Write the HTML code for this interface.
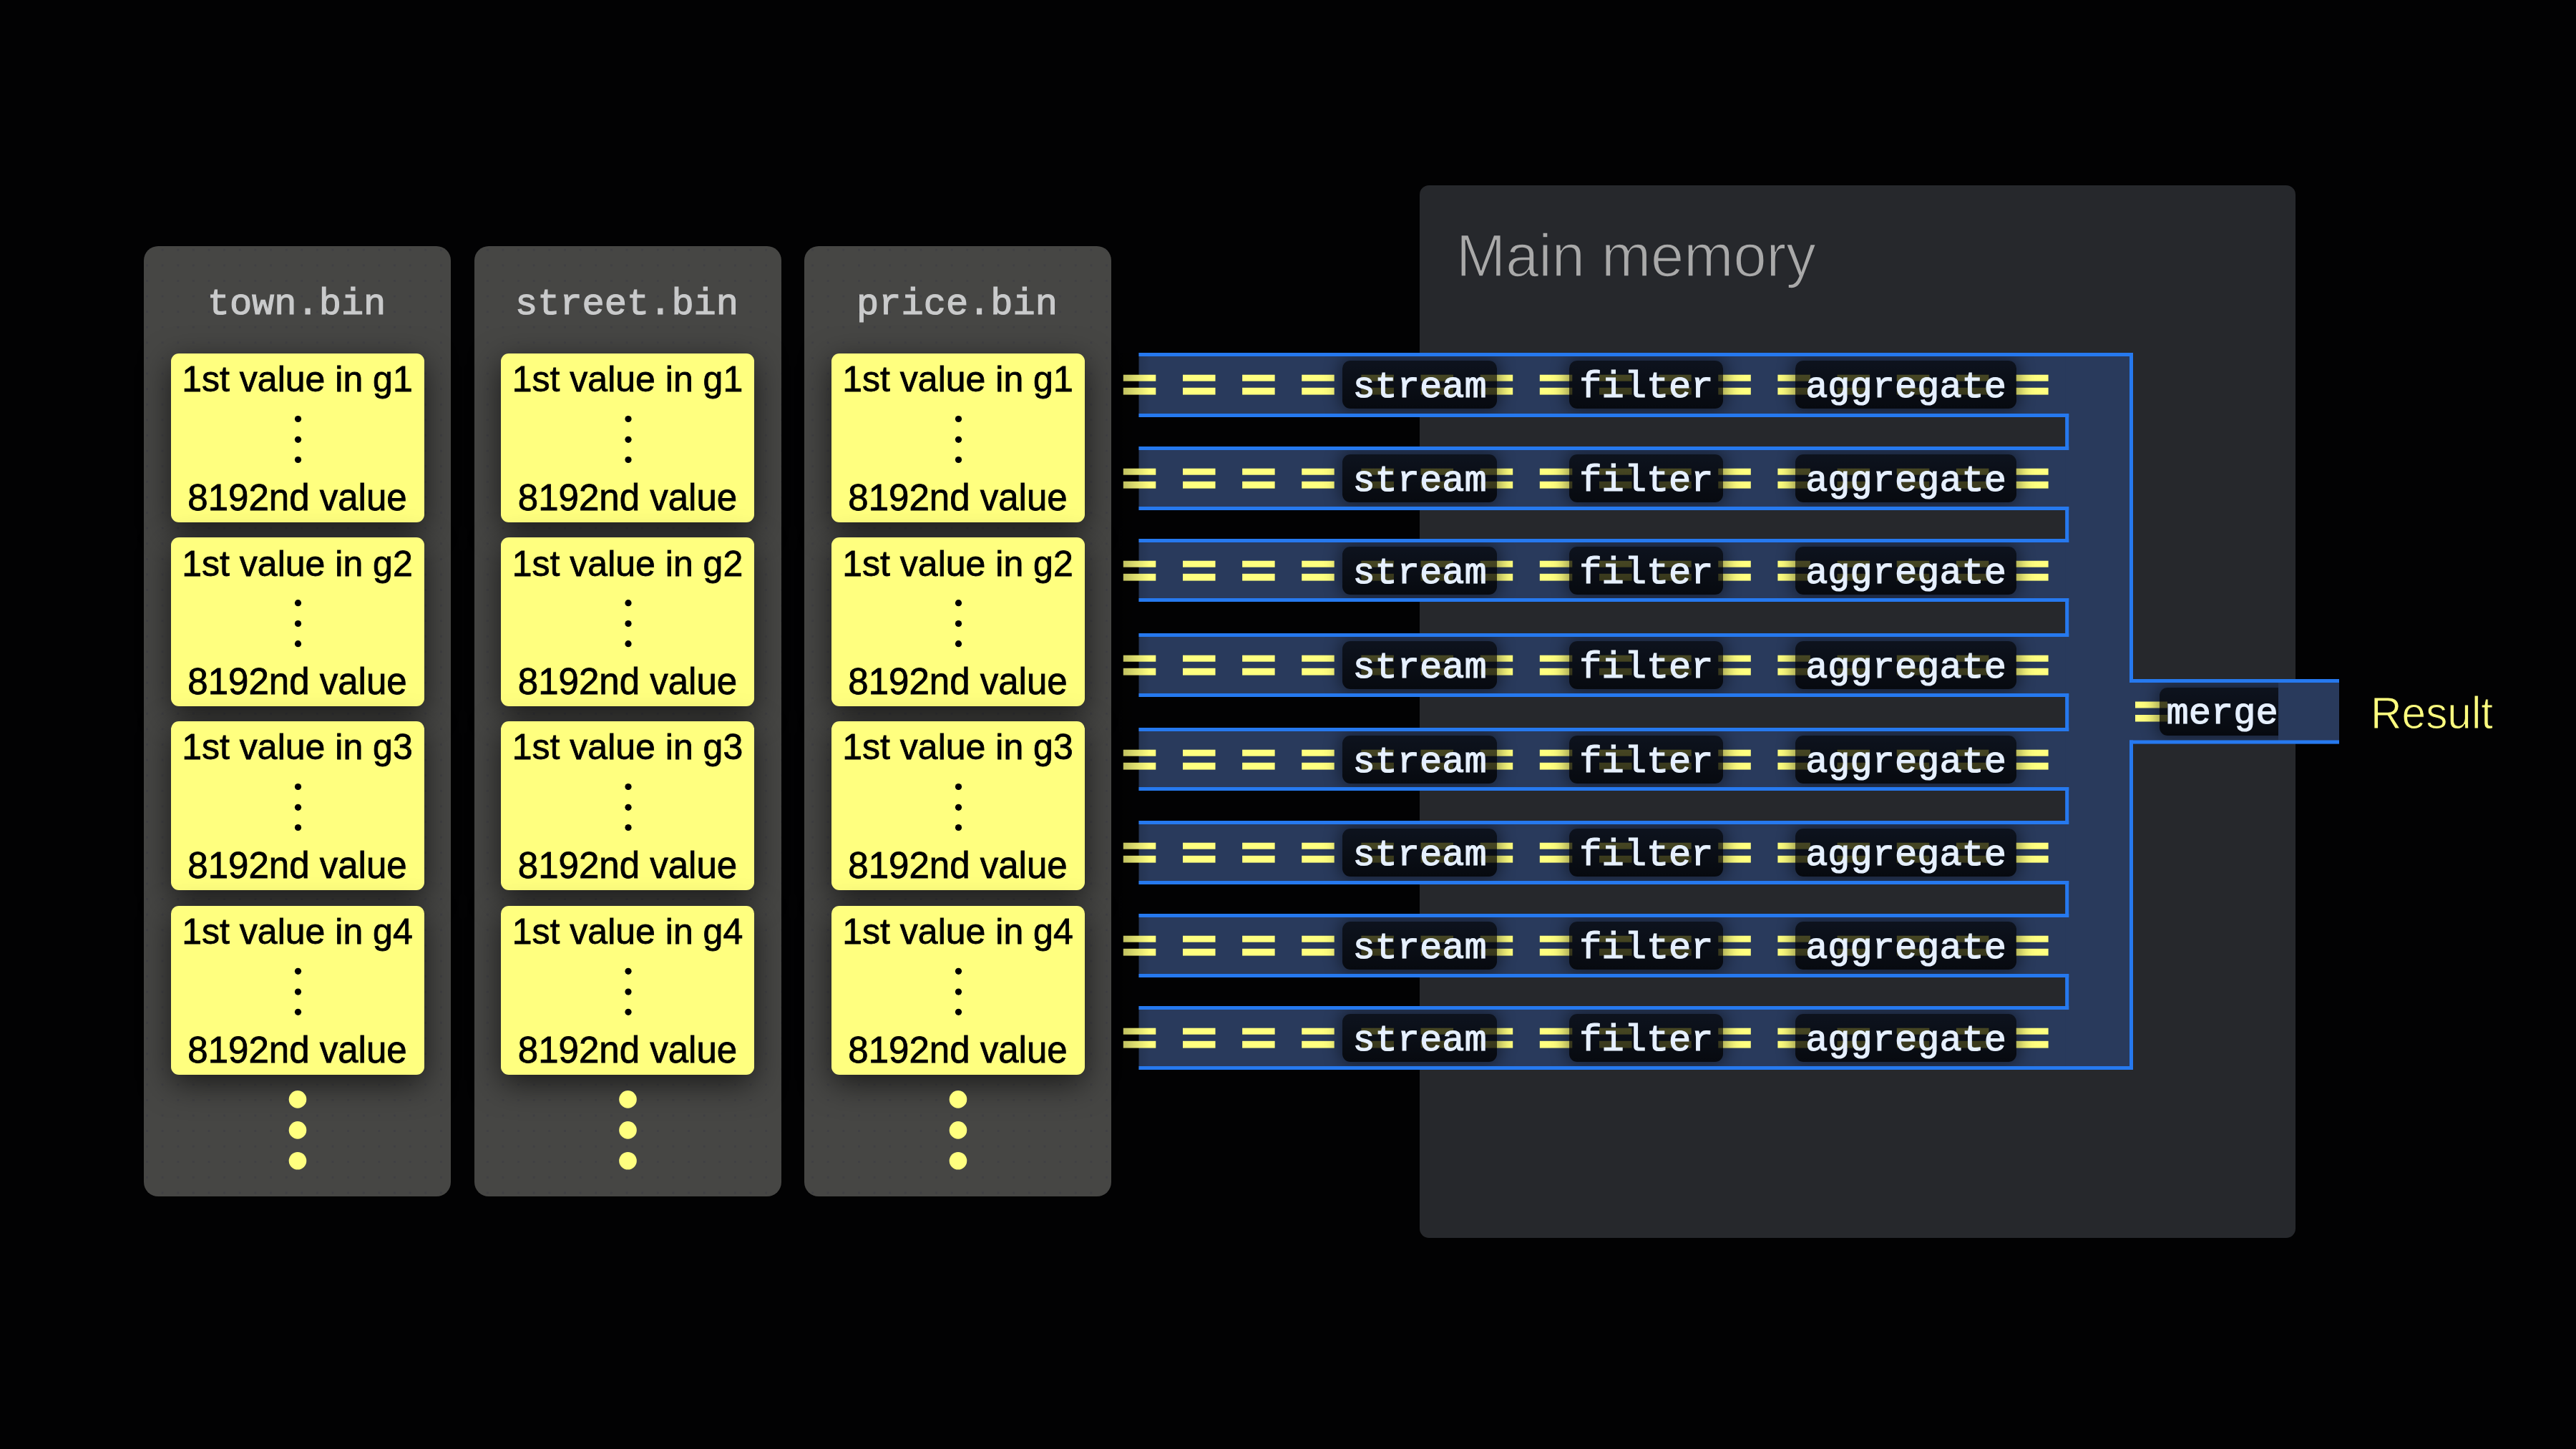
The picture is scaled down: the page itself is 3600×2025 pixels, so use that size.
<!DOCTYPE html><html><head><meta charset="utf-8"><style>
html,body{margin:0;padding:0;width:3600px;height:2025px;overflow:hidden;background:#020203}
.r{position:absolute;box-sizing:border-box}
svg{position:absolute;left:0;top:0;overflow:visible}
</style></head><body>
<div class="r" style="left:201.0px;top:344px;width:429px;height:1328px;background:#464644;border-radius:20px"></div>
<div class="r" style="left:662.5px;top:344px;width:429px;height:1328px;background:#464644;border-radius:20px"></div>
<div class="r" style="left:1124.0px;top:344px;width:429px;height:1328px;background:#464644;border-radius:20px"></div>
<svg width="3600" height="2025"><defs><pattern id="dg" patternUnits="userSpaceOnUse" x="204.00" y="347.80" width="21.63" height="21.602"><rect x="0" y="0" width="3" height="3" fill="#404043"/></pattern></defs>
<rect x="201.0" y="344" width="429" height="1328" rx="20" fill="url(#dg)"/>
<rect x="662.5" y="344" width="429" height="1328" rx="20" fill="url(#dg)"/>
<rect x="1124.0" y="344" width="429" height="1328" rx="20" fill="url(#dg)"/>
</svg>
<div class="r" style="left:238.5px;top:494.0px;width:354px;height:236px;background:#FFFF7F;border-radius:11px;box-shadow:0 12px 44px rgba(0,0,0,0.62)"></div>
<div class="r" style="left:238.5px;top:751.2px;width:354px;height:236px;background:#FFFF7F;border-radius:11px;box-shadow:0 12px 44px rgba(0,0,0,0.62)"></div>
<div class="r" style="left:238.5px;top:1008.0px;width:354px;height:236px;background:#FFFF7F;border-radius:11px;box-shadow:0 12px 44px rgba(0,0,0,0.62)"></div>
<div class="r" style="left:238.5px;top:1265.8px;width:354px;height:236px;background:#FFFF7F;border-radius:11px;box-shadow:0 12px 44px rgba(0,0,0,0.62)"></div>
<div class="r" style="left:700.0px;top:494.0px;width:354px;height:236px;background:#FFFF7F;border-radius:11px;box-shadow:0 12px 44px rgba(0,0,0,0.62)"></div>
<div class="r" style="left:700.0px;top:751.2px;width:354px;height:236px;background:#FFFF7F;border-radius:11px;box-shadow:0 12px 44px rgba(0,0,0,0.62)"></div>
<div class="r" style="left:700.0px;top:1008.0px;width:354px;height:236px;background:#FFFF7F;border-radius:11px;box-shadow:0 12px 44px rgba(0,0,0,0.62)"></div>
<div class="r" style="left:700.0px;top:1265.8px;width:354px;height:236px;background:#FFFF7F;border-radius:11px;box-shadow:0 12px 44px rgba(0,0,0,0.62)"></div>
<div class="r" style="left:1161.5px;top:494.0px;width:354px;height:236px;background:#FFFF7F;border-radius:11px;box-shadow:0 12px 44px rgba(0,0,0,0.62)"></div>
<div class="r" style="left:1161.5px;top:751.2px;width:354px;height:236px;background:#FFFF7F;border-radius:11px;box-shadow:0 12px 44px rgba(0,0,0,0.62)"></div>
<div class="r" style="left:1161.5px;top:1008.0px;width:354px;height:236px;background:#FFFF7F;border-radius:11px;box-shadow:0 12px 44px rgba(0,0,0,0.62)"></div>
<div class="r" style="left:1161.5px;top:1265.8px;width:354px;height:236px;background:#FFFF7F;border-radius:11px;box-shadow:0 12px 44px rgba(0,0,0,0.62)"></div>
<svg width="3600" height="2025">
<text x="414.5" y="438.6" font-family='"Liberation Mono", monospace' font-size="52" fill="#C9CACB" stroke="#C9CACB" stroke-width="1.2" text-anchor="middle">town.bin</text>
<text x="415.5" y="547.3" font-family='"Liberation Sans", sans-serif' font-size="50" fill="#000" stroke="#000" stroke-width="0.8" text-anchor="middle">1st value in g1</text>
<circle cx="416.5" cy="585.5" r="4.6" fill="#000"/>
<circle cx="416.5" cy="614.3" r="4.6" fill="#000"/>
<circle cx="416.5" cy="642.5" r="4.6" fill="#000"/>
<text x="415.5" y="712.9" font-family='"Liberation Sans", sans-serif' font-size="51" fill="#000" stroke="#000" stroke-width="0.8" text-anchor="middle">8192nd value</text>
<text x="415.5" y="804.5" font-family='"Liberation Sans", sans-serif' font-size="50" fill="#000" stroke="#000" stroke-width="0.8" text-anchor="middle">1st value in g2</text>
<circle cx="416.5" cy="842.7" r="4.6" fill="#000"/>
<circle cx="416.5" cy="871.5" r="4.6" fill="#000"/>
<circle cx="416.5" cy="899.7" r="4.6" fill="#000"/>
<text x="415.5" y="970.1" font-family='"Liberation Sans", sans-serif' font-size="51" fill="#000" stroke="#000" stroke-width="0.8" text-anchor="middle">8192nd value</text>
<text x="415.5" y="1061.3" font-family='"Liberation Sans", sans-serif' font-size="50" fill="#000" stroke="#000" stroke-width="0.8" text-anchor="middle">1st value in g3</text>
<circle cx="416.5" cy="1099.5" r="4.6" fill="#000"/>
<circle cx="416.5" cy="1128.3" r="4.6" fill="#000"/>
<circle cx="416.5" cy="1156.5" r="4.6" fill="#000"/>
<text x="415.5" y="1226.9" font-family='"Liberation Sans", sans-serif' font-size="51" fill="#000" stroke="#000" stroke-width="0.8" text-anchor="middle">8192nd value</text>
<text x="415.5" y="1319.1" font-family='"Liberation Sans", sans-serif' font-size="50" fill="#000" stroke="#000" stroke-width="0.8" text-anchor="middle">1st value in g4</text>
<circle cx="416.5" cy="1357.3" r="4.6" fill="#000"/>
<circle cx="416.5" cy="1386.1" r="4.6" fill="#000"/>
<circle cx="416.5" cy="1414.3" r="4.6" fill="#000"/>
<text x="415.5" y="1484.7" font-family='"Liberation Sans", sans-serif' font-size="51" fill="#000" stroke="#000" stroke-width="0.8" text-anchor="middle">8192nd value</text>
<circle cx="416.0" cy="1536.4" r="12.3" fill="#FFFF7F"/>
<circle cx="416.0" cy="1579.4" r="12.3" fill="#FFFF7F"/>
<circle cx="416.0" cy="1622.3" r="12.3" fill="#FFFF7F"/>
<text x="876.0" y="438.6" font-family='"Liberation Mono", monospace' font-size="52" fill="#C9CACB" stroke="#C9CACB" stroke-width="1.2" text-anchor="middle">street.bin</text>
<text x="877.0" y="547.3" font-family='"Liberation Sans", sans-serif' font-size="50" fill="#000" stroke="#000" stroke-width="0.8" text-anchor="middle">1st value in g1</text>
<circle cx="878.0" cy="585.5" r="4.6" fill="#000"/>
<circle cx="878.0" cy="614.3" r="4.6" fill="#000"/>
<circle cx="878.0" cy="642.5" r="4.6" fill="#000"/>
<text x="877.0" y="712.9" font-family='"Liberation Sans", sans-serif' font-size="51" fill="#000" stroke="#000" stroke-width="0.8" text-anchor="middle">8192nd value</text>
<text x="877.0" y="804.5" font-family='"Liberation Sans", sans-serif' font-size="50" fill="#000" stroke="#000" stroke-width="0.8" text-anchor="middle">1st value in g2</text>
<circle cx="878.0" cy="842.7" r="4.6" fill="#000"/>
<circle cx="878.0" cy="871.5" r="4.6" fill="#000"/>
<circle cx="878.0" cy="899.7" r="4.6" fill="#000"/>
<text x="877.0" y="970.1" font-family='"Liberation Sans", sans-serif' font-size="51" fill="#000" stroke="#000" stroke-width="0.8" text-anchor="middle">8192nd value</text>
<text x="877.0" y="1061.3" font-family='"Liberation Sans", sans-serif' font-size="50" fill="#000" stroke="#000" stroke-width="0.8" text-anchor="middle">1st value in g3</text>
<circle cx="878.0" cy="1099.5" r="4.6" fill="#000"/>
<circle cx="878.0" cy="1128.3" r="4.6" fill="#000"/>
<circle cx="878.0" cy="1156.5" r="4.6" fill="#000"/>
<text x="877.0" y="1226.9" font-family='"Liberation Sans", sans-serif' font-size="51" fill="#000" stroke="#000" stroke-width="0.8" text-anchor="middle">8192nd value</text>
<text x="877.0" y="1319.1" font-family='"Liberation Sans", sans-serif' font-size="50" fill="#000" stroke="#000" stroke-width="0.8" text-anchor="middle">1st value in g4</text>
<circle cx="878.0" cy="1357.3" r="4.6" fill="#000"/>
<circle cx="878.0" cy="1386.1" r="4.6" fill="#000"/>
<circle cx="878.0" cy="1414.3" r="4.6" fill="#000"/>
<text x="877.0" y="1484.7" font-family='"Liberation Sans", sans-serif' font-size="51" fill="#000" stroke="#000" stroke-width="0.8" text-anchor="middle">8192nd value</text>
<circle cx="877.5" cy="1536.4" r="12.3" fill="#FFFF7F"/>
<circle cx="877.5" cy="1579.4" r="12.3" fill="#FFFF7F"/>
<circle cx="877.5" cy="1622.3" r="12.3" fill="#FFFF7F"/>
<text x="1337.5" y="438.6" font-family='"Liberation Mono", monospace' font-size="52" fill="#C9CACB" stroke="#C9CACB" stroke-width="1.2" text-anchor="middle">price.bin</text>
<text x="1338.5" y="547.3" font-family='"Liberation Sans", sans-serif' font-size="50" fill="#000" stroke="#000" stroke-width="0.8" text-anchor="middle">1st value in g1</text>
<circle cx="1339.5" cy="585.5" r="4.6" fill="#000"/>
<circle cx="1339.5" cy="614.3" r="4.6" fill="#000"/>
<circle cx="1339.5" cy="642.5" r="4.6" fill="#000"/>
<text x="1338.5" y="712.9" font-family='"Liberation Sans", sans-serif' font-size="51" fill="#000" stroke="#000" stroke-width="0.8" text-anchor="middle">8192nd value</text>
<text x="1338.5" y="804.5" font-family='"Liberation Sans", sans-serif' font-size="50" fill="#000" stroke="#000" stroke-width="0.8" text-anchor="middle">1st value in g2</text>
<circle cx="1339.5" cy="842.7" r="4.6" fill="#000"/>
<circle cx="1339.5" cy="871.5" r="4.6" fill="#000"/>
<circle cx="1339.5" cy="899.7" r="4.6" fill="#000"/>
<text x="1338.5" y="970.1" font-family='"Liberation Sans", sans-serif' font-size="51" fill="#000" stroke="#000" stroke-width="0.8" text-anchor="middle">8192nd value</text>
<text x="1338.5" y="1061.3" font-family='"Liberation Sans", sans-serif' font-size="50" fill="#000" stroke="#000" stroke-width="0.8" text-anchor="middle">1st value in g3</text>
<circle cx="1339.5" cy="1099.5" r="4.6" fill="#000"/>
<circle cx="1339.5" cy="1128.3" r="4.6" fill="#000"/>
<circle cx="1339.5" cy="1156.5" r="4.6" fill="#000"/>
<text x="1338.5" y="1226.9" font-family='"Liberation Sans", sans-serif' font-size="51" fill="#000" stroke="#000" stroke-width="0.8" text-anchor="middle">8192nd value</text>
<text x="1338.5" y="1319.1" font-family='"Liberation Sans", sans-serif' font-size="50" fill="#000" stroke="#000" stroke-width="0.8" text-anchor="middle">1st value in g4</text>
<circle cx="1339.5" cy="1357.3" r="4.6" fill="#000"/>
<circle cx="1339.5" cy="1386.1" r="4.6" fill="#000"/>
<circle cx="1339.5" cy="1414.3" r="4.6" fill="#000"/>
<text x="1338.5" y="1484.7" font-family='"Liberation Sans", sans-serif' font-size="51" fill="#000" stroke="#000" stroke-width="0.8" text-anchor="middle">8192nd value</text>
<circle cx="1339.0" cy="1536.4" r="12.3" fill="#FFFF7F"/>
<circle cx="1339.0" cy="1579.4" r="12.3" fill="#FFFF7F"/>
<circle cx="1339.0" cy="1622.3" r="12.3" fill="#FFFF7F"/>
</svg>
<div class="r" style="left:1984px;top:259px;width:1224px;height:1471px;background:#26282C;border-radius:13px"></div>
<svg width="3600" height="2025"><text x="2035" y="386.3" font-family='"Liberation Sans", sans-serif' font-size="83" fill="#A9A9A9" stroke="#26282C" stroke-width="1.6">Main memory</text></svg>
<svg width="3600" height="2025"><rect x="1591.5" y="493" width="1295.7" height="90" fill="#293A5C"/><rect x="1591.5" y="624" width="1295.7" height="89" fill="#293A5C"/><rect x="1591.5" y="753" width="1295.7" height="88" fill="#293A5C"/><rect x="1591.5" y="885" width="1295.7" height="89" fill="#293A5C"/><rect x="1591.5" y="1017" width="1295.7" height="88" fill="#293A5C"/><rect x="1591.5" y="1147" width="1295.7" height="89" fill="#293A5C"/><rect x="1591.5" y="1277" width="1295.7" height="89" fill="#293A5C"/><rect x="1591.5" y="1406" width="1295.7" height="89" fill="#293A5C"/><rect x="2886.2" y="493" width="94.8" height="1002" fill="#293A5C"/><rect x="2976" y="949" width="293" height="90.5" fill="#293A5C"/></svg>
<svg width="3600" height="2025"><rect x="1569.8" y="523.7" width="45.5" height="9" fill="#FFFF7F"/><rect x="1569.8" y="541.8" width="45.5" height="9.8" fill="#FFFF7F"/><rect x="1653.0" y="523.7" width="45.5" height="9" fill="#FFFF7F"/><rect x="1653.0" y="541.8" width="45.5" height="9.8" fill="#FFFF7F"/><rect x="1736.1" y="523.7" width="45.5" height="9" fill="#FFFF7F"/><rect x="1736.1" y="541.8" width="45.5" height="9.8" fill="#FFFF7F"/><rect x="1819.2" y="523.7" width="45.5" height="9" fill="#FFFF7F"/><rect x="1819.2" y="541.8" width="45.5" height="9.8" fill="#FFFF7F"/><rect x="1902.4" y="523.7" width="45.5" height="9" fill="#FFFF7F"/><rect x="1902.4" y="541.8" width="45.5" height="9.8" fill="#FFFF7F"/><rect x="1985.5" y="523.7" width="45.5" height="9" fill="#FFFF7F"/><rect x="1985.5" y="541.8" width="45.5" height="9.8" fill="#FFFF7F"/><rect x="2068.7" y="523.7" width="45.5" height="9" fill="#FFFF7F"/><rect x="2068.7" y="541.8" width="45.5" height="9.8" fill="#FFFF7F"/><rect x="2151.8" y="523.7" width="45.5" height="9" fill="#FFFF7F"/><rect x="2151.8" y="541.8" width="45.5" height="9.8" fill="#FFFF7F"/><rect x="2235.0" y="523.7" width="45.5" height="9" fill="#FFFF7F"/><rect x="2235.0" y="541.8" width="45.5" height="9.8" fill="#FFFF7F"/><rect x="2318.2" y="523.7" width="45.5" height="9" fill="#FFFF7F"/><rect x="2318.2" y="541.8" width="45.5" height="9.8" fill="#FFFF7F"/><rect x="2401.3" y="523.7" width="45.5" height="9" fill="#FFFF7F"/><rect x="2401.3" y="541.8" width="45.5" height="9.8" fill="#FFFF7F"/><rect x="2484.4" y="523.7" width="45.5" height="9" fill="#FFFF7F"/><rect x="2484.4" y="541.8" width="45.5" height="9.8" fill="#FFFF7F"/><rect x="2567.6" y="523.7" width="45.5" height="9" fill="#FFFF7F"/><rect x="2567.6" y="541.8" width="45.5" height="9.8" fill="#FFFF7F"/><rect x="2650.8" y="523.7" width="45.5" height="9" fill="#FFFF7F"/><rect x="2650.8" y="541.8" width="45.5" height="9.8" fill="#FFFF7F"/><rect x="2733.9" y="523.7" width="45.5" height="9" fill="#FFFF7F"/><rect x="2733.9" y="541.8" width="45.5" height="9.8" fill="#FFFF7F"/><rect x="2817.1" y="523.7" width="45.5" height="9" fill="#FFFF7F"/><rect x="2817.1" y="541.8" width="45.5" height="9.8" fill="#FFFF7F"/><rect x="1569.8" y="654.7" width="45.5" height="9" fill="#FFFF7F"/><rect x="1569.8" y="672.8" width="45.5" height="9.8" fill="#FFFF7F"/><rect x="1653.0" y="654.7" width="45.5" height="9" fill="#FFFF7F"/><rect x="1653.0" y="672.8" width="45.5" height="9.8" fill="#FFFF7F"/><rect x="1736.1" y="654.7" width="45.5" height="9" fill="#FFFF7F"/><rect x="1736.1" y="672.8" width="45.5" height="9.8" fill="#FFFF7F"/><rect x="1819.2" y="654.7" width="45.5" height="9" fill="#FFFF7F"/><rect x="1819.2" y="672.8" width="45.5" height="9.8" fill="#FFFF7F"/><rect x="1902.4" y="654.7" width="45.5" height="9" fill="#FFFF7F"/><rect x="1902.4" y="672.8" width="45.5" height="9.8" fill="#FFFF7F"/><rect x="1985.5" y="654.7" width="45.5" height="9" fill="#FFFF7F"/><rect x="1985.5" y="672.8" width="45.5" height="9.8" fill="#FFFF7F"/><rect x="2068.7" y="654.7" width="45.5" height="9" fill="#FFFF7F"/><rect x="2068.7" y="672.8" width="45.5" height="9.8" fill="#FFFF7F"/><rect x="2151.8" y="654.7" width="45.5" height="9" fill="#FFFF7F"/><rect x="2151.8" y="672.8" width="45.5" height="9.8" fill="#FFFF7F"/><rect x="2235.0" y="654.7" width="45.5" height="9" fill="#FFFF7F"/><rect x="2235.0" y="672.8" width="45.5" height="9.8" fill="#FFFF7F"/><rect x="2318.2" y="654.7" width="45.5" height="9" fill="#FFFF7F"/><rect x="2318.2" y="672.8" width="45.5" height="9.8" fill="#FFFF7F"/><rect x="2401.3" y="654.7" width="45.5" height="9" fill="#FFFF7F"/><rect x="2401.3" y="672.8" width="45.5" height="9.8" fill="#FFFF7F"/><rect x="2484.4" y="654.7" width="45.5" height="9" fill="#FFFF7F"/><rect x="2484.4" y="672.8" width="45.5" height="9.8" fill="#FFFF7F"/><rect x="2567.6" y="654.7" width="45.5" height="9" fill="#FFFF7F"/><rect x="2567.6" y="672.8" width="45.5" height="9.8" fill="#FFFF7F"/><rect x="2650.8" y="654.7" width="45.5" height="9" fill="#FFFF7F"/><rect x="2650.8" y="672.8" width="45.5" height="9.8" fill="#FFFF7F"/><rect x="2733.9" y="654.7" width="45.5" height="9" fill="#FFFF7F"/><rect x="2733.9" y="672.8" width="45.5" height="9.8" fill="#FFFF7F"/><rect x="2817.1" y="654.7" width="45.5" height="9" fill="#FFFF7F"/><rect x="2817.1" y="672.8" width="45.5" height="9.8" fill="#FFFF7F"/><rect x="1569.8" y="783.7" width="45.5" height="9" fill="#FFFF7F"/><rect x="1569.8" y="801.8" width="45.5" height="9.8" fill="#FFFF7F"/><rect x="1653.0" y="783.7" width="45.5" height="9" fill="#FFFF7F"/><rect x="1653.0" y="801.8" width="45.5" height="9.8" fill="#FFFF7F"/><rect x="1736.1" y="783.7" width="45.5" height="9" fill="#FFFF7F"/><rect x="1736.1" y="801.8" width="45.5" height="9.8" fill="#FFFF7F"/><rect x="1819.2" y="783.7" width="45.5" height="9" fill="#FFFF7F"/><rect x="1819.2" y="801.8" width="45.5" height="9.8" fill="#FFFF7F"/><rect x="1902.4" y="783.7" width="45.5" height="9" fill="#FFFF7F"/><rect x="1902.4" y="801.8" width="45.5" height="9.8" fill="#FFFF7F"/><rect x="1985.5" y="783.7" width="45.5" height="9" fill="#FFFF7F"/><rect x="1985.5" y="801.8" width="45.5" height="9.8" fill="#FFFF7F"/><rect x="2068.7" y="783.7" width="45.5" height="9" fill="#FFFF7F"/><rect x="2068.7" y="801.8" width="45.5" height="9.8" fill="#FFFF7F"/><rect x="2151.8" y="783.7" width="45.5" height="9" fill="#FFFF7F"/><rect x="2151.8" y="801.8" width="45.5" height="9.8" fill="#FFFF7F"/><rect x="2235.0" y="783.7" width="45.5" height="9" fill="#FFFF7F"/><rect x="2235.0" y="801.8" width="45.5" height="9.8" fill="#FFFF7F"/><rect x="2318.2" y="783.7" width="45.5" height="9" fill="#FFFF7F"/><rect x="2318.2" y="801.8" width="45.5" height="9.8" fill="#FFFF7F"/><rect x="2401.3" y="783.7" width="45.5" height="9" fill="#FFFF7F"/><rect x="2401.3" y="801.8" width="45.5" height="9.8" fill="#FFFF7F"/><rect x="2484.4" y="783.7" width="45.5" height="9" fill="#FFFF7F"/><rect x="2484.4" y="801.8" width="45.5" height="9.8" fill="#FFFF7F"/><rect x="2567.6" y="783.7" width="45.5" height="9" fill="#FFFF7F"/><rect x="2567.6" y="801.8" width="45.5" height="9.8" fill="#FFFF7F"/><rect x="2650.8" y="783.7" width="45.5" height="9" fill="#FFFF7F"/><rect x="2650.8" y="801.8" width="45.5" height="9.8" fill="#FFFF7F"/><rect x="2733.9" y="783.7" width="45.5" height="9" fill="#FFFF7F"/><rect x="2733.9" y="801.8" width="45.5" height="9.8" fill="#FFFF7F"/><rect x="2817.1" y="783.7" width="45.5" height="9" fill="#FFFF7F"/><rect x="2817.1" y="801.8" width="45.5" height="9.8" fill="#FFFF7F"/><rect x="1569.8" y="915.7" width="45.5" height="9" fill="#FFFF7F"/><rect x="1569.8" y="933.8" width="45.5" height="9.8" fill="#FFFF7F"/><rect x="1653.0" y="915.7" width="45.5" height="9" fill="#FFFF7F"/><rect x="1653.0" y="933.8" width="45.5" height="9.8" fill="#FFFF7F"/><rect x="1736.1" y="915.7" width="45.5" height="9" fill="#FFFF7F"/><rect x="1736.1" y="933.8" width="45.5" height="9.8" fill="#FFFF7F"/><rect x="1819.2" y="915.7" width="45.5" height="9" fill="#FFFF7F"/><rect x="1819.2" y="933.8" width="45.5" height="9.8" fill="#FFFF7F"/><rect x="1902.4" y="915.7" width="45.5" height="9" fill="#FFFF7F"/><rect x="1902.4" y="933.8" width="45.5" height="9.8" fill="#FFFF7F"/><rect x="1985.5" y="915.7" width="45.5" height="9" fill="#FFFF7F"/><rect x="1985.5" y="933.8" width="45.5" height="9.8" fill="#FFFF7F"/><rect x="2068.7" y="915.7" width="45.5" height="9" fill="#FFFF7F"/><rect x="2068.7" y="933.8" width="45.5" height="9.8" fill="#FFFF7F"/><rect x="2151.8" y="915.7" width="45.5" height="9" fill="#FFFF7F"/><rect x="2151.8" y="933.8" width="45.5" height="9.8" fill="#FFFF7F"/><rect x="2235.0" y="915.7" width="45.5" height="9" fill="#FFFF7F"/><rect x="2235.0" y="933.8" width="45.5" height="9.8" fill="#FFFF7F"/><rect x="2318.2" y="915.7" width="45.5" height="9" fill="#FFFF7F"/><rect x="2318.2" y="933.8" width="45.5" height="9.8" fill="#FFFF7F"/><rect x="2401.3" y="915.7" width="45.5" height="9" fill="#FFFF7F"/><rect x="2401.3" y="933.8" width="45.5" height="9.8" fill="#FFFF7F"/><rect x="2484.4" y="915.7" width="45.5" height="9" fill="#FFFF7F"/><rect x="2484.4" y="933.8" width="45.5" height="9.8" fill="#FFFF7F"/><rect x="2567.6" y="915.7" width="45.5" height="9" fill="#FFFF7F"/><rect x="2567.6" y="933.8" width="45.5" height="9.8" fill="#FFFF7F"/><rect x="2650.8" y="915.7" width="45.5" height="9" fill="#FFFF7F"/><rect x="2650.8" y="933.8" width="45.5" height="9.8" fill="#FFFF7F"/><rect x="2733.9" y="915.7" width="45.5" height="9" fill="#FFFF7F"/><rect x="2733.9" y="933.8" width="45.5" height="9.8" fill="#FFFF7F"/><rect x="2817.1" y="915.7" width="45.5" height="9" fill="#FFFF7F"/><rect x="2817.1" y="933.8" width="45.5" height="9.8" fill="#FFFF7F"/><rect x="1569.8" y="1047.7" width="45.5" height="9" fill="#FFFF7F"/><rect x="1569.8" y="1065.8" width="45.5" height="9.8" fill="#FFFF7F"/><rect x="1653.0" y="1047.7" width="45.5" height="9" fill="#FFFF7F"/><rect x="1653.0" y="1065.8" width="45.5" height="9.8" fill="#FFFF7F"/><rect x="1736.1" y="1047.7" width="45.5" height="9" fill="#FFFF7F"/><rect x="1736.1" y="1065.8" width="45.5" height="9.8" fill="#FFFF7F"/><rect x="1819.2" y="1047.7" width="45.5" height="9" fill="#FFFF7F"/><rect x="1819.2" y="1065.8" width="45.5" height="9.8" fill="#FFFF7F"/><rect x="1902.4" y="1047.7" width="45.5" height="9" fill="#FFFF7F"/><rect x="1902.4" y="1065.8" width="45.5" height="9.8" fill="#FFFF7F"/><rect x="1985.5" y="1047.7" width="45.5" height="9" fill="#FFFF7F"/><rect x="1985.5" y="1065.8" width="45.5" height="9.8" fill="#FFFF7F"/><rect x="2068.7" y="1047.7" width="45.5" height="9" fill="#FFFF7F"/><rect x="2068.7" y="1065.8" width="45.5" height="9.8" fill="#FFFF7F"/><rect x="2151.8" y="1047.7" width="45.5" height="9" fill="#FFFF7F"/><rect x="2151.8" y="1065.8" width="45.5" height="9.8" fill="#FFFF7F"/><rect x="2235.0" y="1047.7" width="45.5" height="9" fill="#FFFF7F"/><rect x="2235.0" y="1065.8" width="45.5" height="9.8" fill="#FFFF7F"/><rect x="2318.2" y="1047.7" width="45.5" height="9" fill="#FFFF7F"/><rect x="2318.2" y="1065.8" width="45.5" height="9.8" fill="#FFFF7F"/><rect x="2401.3" y="1047.7" width="45.5" height="9" fill="#FFFF7F"/><rect x="2401.3" y="1065.8" width="45.5" height="9.8" fill="#FFFF7F"/><rect x="2484.4" y="1047.7" width="45.5" height="9" fill="#FFFF7F"/><rect x="2484.4" y="1065.8" width="45.5" height="9.8" fill="#FFFF7F"/><rect x="2567.6" y="1047.7" width="45.5" height="9" fill="#FFFF7F"/><rect x="2567.6" y="1065.8" width="45.5" height="9.8" fill="#FFFF7F"/><rect x="2650.8" y="1047.7" width="45.5" height="9" fill="#FFFF7F"/><rect x="2650.8" y="1065.8" width="45.5" height="9.8" fill="#FFFF7F"/><rect x="2733.9" y="1047.7" width="45.5" height="9" fill="#FFFF7F"/><rect x="2733.9" y="1065.8" width="45.5" height="9.8" fill="#FFFF7F"/><rect x="2817.1" y="1047.7" width="45.5" height="9" fill="#FFFF7F"/><rect x="2817.1" y="1065.8" width="45.5" height="9.8" fill="#FFFF7F"/><rect x="1569.8" y="1177.7" width="45.5" height="9" fill="#FFFF7F"/><rect x="1569.8" y="1195.8" width="45.5" height="9.8" fill="#FFFF7F"/><rect x="1653.0" y="1177.7" width="45.5" height="9" fill="#FFFF7F"/><rect x="1653.0" y="1195.8" width="45.5" height="9.8" fill="#FFFF7F"/><rect x="1736.1" y="1177.7" width="45.5" height="9" fill="#FFFF7F"/><rect x="1736.1" y="1195.8" width="45.5" height="9.8" fill="#FFFF7F"/><rect x="1819.2" y="1177.7" width="45.5" height="9" fill="#FFFF7F"/><rect x="1819.2" y="1195.8" width="45.5" height="9.8" fill="#FFFF7F"/><rect x="1902.4" y="1177.7" width="45.5" height="9" fill="#FFFF7F"/><rect x="1902.4" y="1195.8" width="45.5" height="9.8" fill="#FFFF7F"/><rect x="1985.5" y="1177.7" width="45.5" height="9" fill="#FFFF7F"/><rect x="1985.5" y="1195.8" width="45.5" height="9.8" fill="#FFFF7F"/><rect x="2068.7" y="1177.7" width="45.5" height="9" fill="#FFFF7F"/><rect x="2068.7" y="1195.8" width="45.5" height="9.8" fill="#FFFF7F"/><rect x="2151.8" y="1177.7" width="45.5" height="9" fill="#FFFF7F"/><rect x="2151.8" y="1195.8" width="45.5" height="9.8" fill="#FFFF7F"/><rect x="2235.0" y="1177.7" width="45.5" height="9" fill="#FFFF7F"/><rect x="2235.0" y="1195.8" width="45.5" height="9.8" fill="#FFFF7F"/><rect x="2318.2" y="1177.7" width="45.5" height="9" fill="#FFFF7F"/><rect x="2318.2" y="1195.8" width="45.5" height="9.8" fill="#FFFF7F"/><rect x="2401.3" y="1177.7" width="45.5" height="9" fill="#FFFF7F"/><rect x="2401.3" y="1195.8" width="45.5" height="9.8" fill="#FFFF7F"/><rect x="2484.4" y="1177.7" width="45.5" height="9" fill="#FFFF7F"/><rect x="2484.4" y="1195.8" width="45.5" height="9.8" fill="#FFFF7F"/><rect x="2567.6" y="1177.7" width="45.5" height="9" fill="#FFFF7F"/><rect x="2567.6" y="1195.8" width="45.5" height="9.8" fill="#FFFF7F"/><rect x="2650.8" y="1177.7" width="45.5" height="9" fill="#FFFF7F"/><rect x="2650.8" y="1195.8" width="45.5" height="9.8" fill="#FFFF7F"/><rect x="2733.9" y="1177.7" width="45.5" height="9" fill="#FFFF7F"/><rect x="2733.9" y="1195.8" width="45.5" height="9.8" fill="#FFFF7F"/><rect x="2817.1" y="1177.7" width="45.5" height="9" fill="#FFFF7F"/><rect x="2817.1" y="1195.8" width="45.5" height="9.8" fill="#FFFF7F"/><rect x="1569.8" y="1307.7" width="45.5" height="9" fill="#FFFF7F"/><rect x="1569.8" y="1325.8" width="45.5" height="9.8" fill="#FFFF7F"/><rect x="1653.0" y="1307.7" width="45.5" height="9" fill="#FFFF7F"/><rect x="1653.0" y="1325.8" width="45.5" height="9.8" fill="#FFFF7F"/><rect x="1736.1" y="1307.7" width="45.5" height="9" fill="#FFFF7F"/><rect x="1736.1" y="1325.8" width="45.5" height="9.8" fill="#FFFF7F"/><rect x="1819.2" y="1307.7" width="45.5" height="9" fill="#FFFF7F"/><rect x="1819.2" y="1325.8" width="45.5" height="9.8" fill="#FFFF7F"/><rect x="1902.4" y="1307.7" width="45.5" height="9" fill="#FFFF7F"/><rect x="1902.4" y="1325.8" width="45.5" height="9.8" fill="#FFFF7F"/><rect x="1985.5" y="1307.7" width="45.5" height="9" fill="#FFFF7F"/><rect x="1985.5" y="1325.8" width="45.5" height="9.8" fill="#FFFF7F"/><rect x="2068.7" y="1307.7" width="45.5" height="9" fill="#FFFF7F"/><rect x="2068.7" y="1325.8" width="45.5" height="9.8" fill="#FFFF7F"/><rect x="2151.8" y="1307.7" width="45.5" height="9" fill="#FFFF7F"/><rect x="2151.8" y="1325.8" width="45.5" height="9.8" fill="#FFFF7F"/><rect x="2235.0" y="1307.7" width="45.5" height="9" fill="#FFFF7F"/><rect x="2235.0" y="1325.8" width="45.5" height="9.8" fill="#FFFF7F"/><rect x="2318.2" y="1307.7" width="45.5" height="9" fill="#FFFF7F"/><rect x="2318.2" y="1325.8" width="45.5" height="9.8" fill="#FFFF7F"/><rect x="2401.3" y="1307.7" width="45.5" height="9" fill="#FFFF7F"/><rect x="2401.3" y="1325.8" width="45.5" height="9.8" fill="#FFFF7F"/><rect x="2484.4" y="1307.7" width="45.5" height="9" fill="#FFFF7F"/><rect x="2484.4" y="1325.8" width="45.5" height="9.8" fill="#FFFF7F"/><rect x="2567.6" y="1307.7" width="45.5" height="9" fill="#FFFF7F"/><rect x="2567.6" y="1325.8" width="45.5" height="9.8" fill="#FFFF7F"/><rect x="2650.8" y="1307.7" width="45.5" height="9" fill="#FFFF7F"/><rect x="2650.8" y="1325.8" width="45.5" height="9.8" fill="#FFFF7F"/><rect x="2733.9" y="1307.7" width="45.5" height="9" fill="#FFFF7F"/><rect x="2733.9" y="1325.8" width="45.5" height="9.8" fill="#FFFF7F"/><rect x="2817.1" y="1307.7" width="45.5" height="9" fill="#FFFF7F"/><rect x="2817.1" y="1325.8" width="45.5" height="9.8" fill="#FFFF7F"/><rect x="1569.8" y="1436.7" width="45.5" height="9" fill="#FFFF7F"/><rect x="1569.8" y="1454.8" width="45.5" height="9.8" fill="#FFFF7F"/><rect x="1653.0" y="1436.7" width="45.5" height="9" fill="#FFFF7F"/><rect x="1653.0" y="1454.8" width="45.5" height="9.8" fill="#FFFF7F"/><rect x="1736.1" y="1436.7" width="45.5" height="9" fill="#FFFF7F"/><rect x="1736.1" y="1454.8" width="45.5" height="9.8" fill="#FFFF7F"/><rect x="1819.2" y="1436.7" width="45.5" height="9" fill="#FFFF7F"/><rect x="1819.2" y="1454.8" width="45.5" height="9.8" fill="#FFFF7F"/><rect x="1902.4" y="1436.7" width="45.5" height="9" fill="#FFFF7F"/><rect x="1902.4" y="1454.8" width="45.5" height="9.8" fill="#FFFF7F"/><rect x="1985.5" y="1436.7" width="45.5" height="9" fill="#FFFF7F"/><rect x="1985.5" y="1454.8" width="45.5" height="9.8" fill="#FFFF7F"/><rect x="2068.7" y="1436.7" width="45.5" height="9" fill="#FFFF7F"/><rect x="2068.7" y="1454.8" width="45.5" height="9.8" fill="#FFFF7F"/><rect x="2151.8" y="1436.7" width="45.5" height="9" fill="#FFFF7F"/><rect x="2151.8" y="1454.8" width="45.5" height="9.8" fill="#FFFF7F"/><rect x="2235.0" y="1436.7" width="45.5" height="9" fill="#FFFF7F"/><rect x="2235.0" y="1454.8" width="45.5" height="9.8" fill="#FFFF7F"/><rect x="2318.2" y="1436.7" width="45.5" height="9" fill="#FFFF7F"/><rect x="2318.2" y="1454.8" width="45.5" height="9.8" fill="#FFFF7F"/><rect x="2401.3" y="1436.7" width="45.5" height="9" fill="#FFFF7F"/><rect x="2401.3" y="1454.8" width="45.5" height="9.8" fill="#FFFF7F"/><rect x="2484.4" y="1436.7" width="45.5" height="9" fill="#FFFF7F"/><rect x="2484.4" y="1454.8" width="45.5" height="9.8" fill="#FFFF7F"/><rect x="2567.6" y="1436.7" width="45.5" height="9" fill="#FFFF7F"/><rect x="2567.6" y="1454.8" width="45.5" height="9.8" fill="#FFFF7F"/><rect x="2650.8" y="1436.7" width="45.5" height="9" fill="#FFFF7F"/><rect x="2650.8" y="1454.8" width="45.5" height="9.8" fill="#FFFF7F"/><rect x="2733.9" y="1436.7" width="45.5" height="9" fill="#FFFF7F"/><rect x="2733.9" y="1454.8" width="45.5" height="9.8" fill="#FFFF7F"/><rect x="2817.1" y="1436.7" width="45.5" height="9" fill="#FFFF7F"/><rect x="2817.1" y="1454.8" width="45.5" height="9.8" fill="#FFFF7F"/><rect x="2984" y="980.5" width="45" height="9" fill="#FFFF7F"/><rect x="2984" y="999" width="45" height="9.5" fill="#FFFF7F"/></svg>
<div class="r" style="left:1565px;top:493px;width:42px;height:1002px;background:linear-gradient(to right,rgba(0,0,0,0.28),rgba(0,0,0,0))"></div>
<div class="r" style="left:1591.5px;top:498px;width:1294.7px;height:80px;overflow:hidden">
<div class="r" style="left:284.5px;top:6.1px;width:216px;height:66.7px;background:linear-gradient(rgba(0,0,0,0.68),rgba(0,0,0,0.83));border-radius:11px;box-shadow:0 0 22px 4px rgba(0,0,0,0.45)"></div>
<div class="r" style="left:601.9px;top:6.1px;width:215px;height:66.7px;background:linear-gradient(rgba(0,0,0,0.68),rgba(0,0,0,0.83));border-radius:11px;box-shadow:0 0 22px 4px rgba(0,0,0,0.45)"></div>
<div class="r" style="left:917.6px;top:6.1px;width:309px;height:66.7px;background:linear-gradient(rgba(0,0,0,0.68),rgba(0,0,0,0.83));border-radius:11px;box-shadow:0 0 22px 4px rgba(0,0,0,0.45)"></div>
</div>
<div class="r" style="left:1591.5px;top:629px;width:1294.7px;height:79px;overflow:hidden">
<div class="r" style="left:284.5px;top:6.1px;width:216px;height:66.7px;background:linear-gradient(rgba(0,0,0,0.68),rgba(0,0,0,0.83));border-radius:11px;box-shadow:0 0 22px 4px rgba(0,0,0,0.45)"></div>
<div class="r" style="left:601.9px;top:6.1px;width:215px;height:66.7px;background:linear-gradient(rgba(0,0,0,0.68),rgba(0,0,0,0.83));border-radius:11px;box-shadow:0 0 22px 4px rgba(0,0,0,0.45)"></div>
<div class="r" style="left:917.6px;top:6.1px;width:309px;height:66.7px;background:linear-gradient(rgba(0,0,0,0.68),rgba(0,0,0,0.83));border-radius:11px;box-shadow:0 0 22px 4px rgba(0,0,0,0.45)"></div>
</div>
<div class="r" style="left:1591.5px;top:758px;width:1294.7px;height:78px;overflow:hidden">
<div class="r" style="left:284.5px;top:6.1px;width:216px;height:66.7px;background:linear-gradient(rgba(0,0,0,0.68),rgba(0,0,0,0.83));border-radius:11px;box-shadow:0 0 22px 4px rgba(0,0,0,0.45)"></div>
<div class="r" style="left:601.9px;top:6.1px;width:215px;height:66.7px;background:linear-gradient(rgba(0,0,0,0.68),rgba(0,0,0,0.83));border-radius:11px;box-shadow:0 0 22px 4px rgba(0,0,0,0.45)"></div>
<div class="r" style="left:917.6px;top:6.1px;width:309px;height:66.7px;background:linear-gradient(rgba(0,0,0,0.68),rgba(0,0,0,0.83));border-radius:11px;box-shadow:0 0 22px 4px rgba(0,0,0,0.45)"></div>
</div>
<div class="r" style="left:1591.5px;top:890px;width:1294.7px;height:79px;overflow:hidden">
<div class="r" style="left:284.5px;top:6.1px;width:216px;height:66.7px;background:linear-gradient(rgba(0,0,0,0.68),rgba(0,0,0,0.83));border-radius:11px;box-shadow:0 0 22px 4px rgba(0,0,0,0.45)"></div>
<div class="r" style="left:601.9px;top:6.1px;width:215px;height:66.7px;background:linear-gradient(rgba(0,0,0,0.68),rgba(0,0,0,0.83));border-radius:11px;box-shadow:0 0 22px 4px rgba(0,0,0,0.45)"></div>
<div class="r" style="left:917.6px;top:6.1px;width:309px;height:66.7px;background:linear-gradient(rgba(0,0,0,0.68),rgba(0,0,0,0.83));border-radius:11px;box-shadow:0 0 22px 4px rgba(0,0,0,0.45)"></div>
</div>
<div class="r" style="left:1591.5px;top:1022px;width:1294.7px;height:78px;overflow:hidden">
<div class="r" style="left:284.5px;top:6.1px;width:216px;height:66.7px;background:linear-gradient(rgba(0,0,0,0.68),rgba(0,0,0,0.83));border-radius:11px;box-shadow:0 0 22px 4px rgba(0,0,0,0.45)"></div>
<div class="r" style="left:601.9px;top:6.1px;width:215px;height:66.7px;background:linear-gradient(rgba(0,0,0,0.68),rgba(0,0,0,0.83));border-radius:11px;box-shadow:0 0 22px 4px rgba(0,0,0,0.45)"></div>
<div class="r" style="left:917.6px;top:6.1px;width:309px;height:66.7px;background:linear-gradient(rgba(0,0,0,0.68),rgba(0,0,0,0.83));border-radius:11px;box-shadow:0 0 22px 4px rgba(0,0,0,0.45)"></div>
</div>
<div class="r" style="left:1591.5px;top:1152px;width:1294.7px;height:79px;overflow:hidden">
<div class="r" style="left:284.5px;top:6.1px;width:216px;height:66.7px;background:linear-gradient(rgba(0,0,0,0.68),rgba(0,0,0,0.83));border-radius:11px;box-shadow:0 0 22px 4px rgba(0,0,0,0.45)"></div>
<div class="r" style="left:601.9px;top:6.1px;width:215px;height:66.7px;background:linear-gradient(rgba(0,0,0,0.68),rgba(0,0,0,0.83));border-radius:11px;box-shadow:0 0 22px 4px rgba(0,0,0,0.45)"></div>
<div class="r" style="left:917.6px;top:6.1px;width:309px;height:66.7px;background:linear-gradient(rgba(0,0,0,0.68),rgba(0,0,0,0.83));border-radius:11px;box-shadow:0 0 22px 4px rgba(0,0,0,0.45)"></div>
</div>
<div class="r" style="left:1591.5px;top:1282px;width:1294.7px;height:79px;overflow:hidden">
<div class="r" style="left:284.5px;top:6.1px;width:216px;height:66.7px;background:linear-gradient(rgba(0,0,0,0.68),rgba(0,0,0,0.83));border-radius:11px;box-shadow:0 0 22px 4px rgba(0,0,0,0.45)"></div>
<div class="r" style="left:601.9px;top:6.1px;width:215px;height:66.7px;background:linear-gradient(rgba(0,0,0,0.68),rgba(0,0,0,0.83));border-radius:11px;box-shadow:0 0 22px 4px rgba(0,0,0,0.45)"></div>
<div class="r" style="left:917.6px;top:6.1px;width:309px;height:66.7px;background:linear-gradient(rgba(0,0,0,0.68),rgba(0,0,0,0.83));border-radius:11px;box-shadow:0 0 22px 4px rgba(0,0,0,0.45)"></div>
</div>
<div class="r" style="left:1591.5px;top:1411px;width:1294.7px;height:79px;overflow:hidden">
<div class="r" style="left:284.5px;top:6.1px;width:216px;height:66.7px;background:linear-gradient(rgba(0,0,0,0.68),rgba(0,0,0,0.83));border-radius:11px;box-shadow:0 0 22px 4px rgba(0,0,0,0.45)"></div>
<div class="r" style="left:601.9px;top:6.1px;width:215px;height:66.7px;background:linear-gradient(rgba(0,0,0,0.68),rgba(0,0,0,0.83));border-radius:11px;box-shadow:0 0 22px 4px rgba(0,0,0,0.45)"></div>
<div class="r" style="left:917.6px;top:6.1px;width:309px;height:66.7px;background:linear-gradient(rgba(0,0,0,0.68),rgba(0,0,0,0.83));border-radius:11px;box-shadow:0 0 22px 4px rgba(0,0,0,0.45)"></div>
</div>
<div class="r" style="left:2981px;top:954px;width:203px;height:80.5px;overflow:hidden"><div class="r" style="left:37px;top:7px;width:190px;height:66.7px;background:linear-gradient(rgba(0,0,0,0.68),rgba(0,0,0,0.83));border-radius:11px;box-shadow:0 0 22px 4px rgba(0,0,0,0.45)"></div></div>
<svg width="3600" height="2025"><rect x="1591.5" y="493" width="1389.5" height="5" fill="#2679EF"/><rect x="1591.5" y="578" width="1299.7" height="5" fill="#2679EF"/><rect x="2886.2" y="578" width="5" height="51" fill="#2679EF"/><rect x="1591.5" y="624" width="1299.7" height="5" fill="#2679EF"/><rect x="1591.5" y="708" width="1299.7" height="5" fill="#2679EF"/><rect x="2886.2" y="708" width="5" height="50" fill="#2679EF"/><rect x="1591.5" y="753" width="1299.7" height="5" fill="#2679EF"/><rect x="1591.5" y="836" width="1299.7" height="5" fill="#2679EF"/><rect x="2886.2" y="836" width="5" height="54" fill="#2679EF"/><rect x="1591.5" y="885" width="1299.7" height="5" fill="#2679EF"/><rect x="1591.5" y="969" width="1299.7" height="5" fill="#2679EF"/><rect x="2886.2" y="969" width="5" height="53" fill="#2679EF"/><rect x="1591.5" y="1017" width="1299.7" height="5" fill="#2679EF"/><rect x="1591.5" y="1100" width="1299.7" height="5" fill="#2679EF"/><rect x="2886.2" y="1100" width="5" height="52" fill="#2679EF"/><rect x="1591.5" y="1147" width="1299.7" height="5" fill="#2679EF"/><rect x="1591.5" y="1231" width="1299.7" height="5" fill="#2679EF"/><rect x="2886.2" y="1231" width="5" height="51" fill="#2679EF"/><rect x="1591.5" y="1277" width="1299.7" height="5" fill="#2679EF"/><rect x="1591.5" y="1361" width="1299.7" height="5" fill="#2679EF"/><rect x="2886.2" y="1361" width="5" height="50" fill="#2679EF"/><rect x="1591.5" y="1406" width="1299.7" height="5" fill="#2679EF"/><rect x="1591.5" y="1490" width="1389.5" height="5" fill="#2679EF"/><rect x="2976" y="493" width="5" height="461.0" fill="#2679EF"/><rect x="2976" y="1034.5" width="5" height="460.5" fill="#2679EF"/><rect x="2976" y="949" width="293" height="5" fill="#2679EF"/><rect x="2976" y="1034.5" width="293" height="5" fill="#2679EF"/></svg>
<svg width="3600" height="2025"><text x="1984.0" y="554.9" font-family='"Liberation Mono", monospace' font-size="52" fill="#E6F0FF" stroke="#E6F0FF" stroke-width="1.2" text-anchor="middle">stream</text><text x="2300.9" y="554.9" font-family='"Liberation Mono", monospace' font-size="52" fill="#E6F0FF" stroke="#E6F0FF" stroke-width="1.2" text-anchor="middle">filter</text><text x="2663.6" y="554.9" font-family='"Liberation Mono", monospace' font-size="52" fill="#E6F0FF" stroke="#E6F0FF" stroke-width="1.2" text-anchor="middle">aggregate</text><text x="1984.0" y="685.9" font-family='"Liberation Mono", monospace' font-size="52" fill="#E6F0FF" stroke="#E6F0FF" stroke-width="1.2" text-anchor="middle">stream</text><text x="2300.9" y="685.9" font-family='"Liberation Mono", monospace' font-size="52" fill="#E6F0FF" stroke="#E6F0FF" stroke-width="1.2" text-anchor="middle">filter</text><text x="2663.6" y="685.9" font-family='"Liberation Mono", monospace' font-size="52" fill="#E6F0FF" stroke="#E6F0FF" stroke-width="1.2" text-anchor="middle">aggregate</text><text x="1984.0" y="814.9" font-family='"Liberation Mono", monospace' font-size="52" fill="#E6F0FF" stroke="#E6F0FF" stroke-width="1.2" text-anchor="middle">stream</text><text x="2300.9" y="814.9" font-family='"Liberation Mono", monospace' font-size="52" fill="#E6F0FF" stroke="#E6F0FF" stroke-width="1.2" text-anchor="middle">filter</text><text x="2663.6" y="814.9" font-family='"Liberation Mono", monospace' font-size="52" fill="#E6F0FF" stroke="#E6F0FF" stroke-width="1.2" text-anchor="middle">aggregate</text><text x="1984.0" y="946.9" font-family='"Liberation Mono", monospace' font-size="52" fill="#E6F0FF" stroke="#E6F0FF" stroke-width="1.2" text-anchor="middle">stream</text><text x="2300.9" y="946.9" font-family='"Liberation Mono", monospace' font-size="52" fill="#E6F0FF" stroke="#E6F0FF" stroke-width="1.2" text-anchor="middle">filter</text><text x="2663.6" y="946.9" font-family='"Liberation Mono", monospace' font-size="52" fill="#E6F0FF" stroke="#E6F0FF" stroke-width="1.2" text-anchor="middle">aggregate</text><text x="1984.0" y="1078.9" font-family='"Liberation Mono", monospace' font-size="52" fill="#E6F0FF" stroke="#E6F0FF" stroke-width="1.2" text-anchor="middle">stream</text><text x="2300.9" y="1078.9" font-family='"Liberation Mono", monospace' font-size="52" fill="#E6F0FF" stroke="#E6F0FF" stroke-width="1.2" text-anchor="middle">filter</text><text x="2663.6" y="1078.9" font-family='"Liberation Mono", monospace' font-size="52" fill="#E6F0FF" stroke="#E6F0FF" stroke-width="1.2" text-anchor="middle">aggregate</text><text x="1984.0" y="1208.9" font-family='"Liberation Mono", monospace' font-size="52" fill="#E6F0FF" stroke="#E6F0FF" stroke-width="1.2" text-anchor="middle">stream</text><text x="2300.9" y="1208.9" font-family='"Liberation Mono", monospace' font-size="52" fill="#E6F0FF" stroke="#E6F0FF" stroke-width="1.2" text-anchor="middle">filter</text><text x="2663.6" y="1208.9" font-family='"Liberation Mono", monospace' font-size="52" fill="#E6F0FF" stroke="#E6F0FF" stroke-width="1.2" text-anchor="middle">aggregate</text><text x="1984.0" y="1338.9" font-family='"Liberation Mono", monospace' font-size="52" fill="#E6F0FF" stroke="#E6F0FF" stroke-width="1.2" text-anchor="middle">stream</text><text x="2300.9" y="1338.9" font-family='"Liberation Mono", monospace' font-size="52" fill="#E6F0FF" stroke="#E6F0FF" stroke-width="1.2" text-anchor="middle">filter</text><text x="2663.6" y="1338.9" font-family='"Liberation Mono", monospace' font-size="52" fill="#E6F0FF" stroke="#E6F0FF" stroke-width="1.2" text-anchor="middle">aggregate</text><text x="1984.0" y="1467.9" font-family='"Liberation Mono", monospace' font-size="52" fill="#E6F0FF" stroke="#E6F0FF" stroke-width="1.2" text-anchor="middle">stream</text><text x="2300.9" y="1467.9" font-family='"Liberation Mono", monospace' font-size="52" fill="#E6F0FF" stroke="#E6F0FF" stroke-width="1.2" text-anchor="middle">filter</text><text x="2663.6" y="1467.9" font-family='"Liberation Mono", monospace' font-size="52" fill="#E6F0FF" stroke="#E6F0FF" stroke-width="1.2" text-anchor="middle">aggregate</text><text x="3105.6" y="1010.7" font-family='"Liberation Mono", monospace' font-size="52" fill="#E6F0FF" stroke="#E6F0FF" stroke-width="1.2" text-anchor="middle">merge</text><text transform="translate(3313,1018) scale(0.958,1)" font-family='"Liberation Sans", sans-serif' font-size="63" fill="#FFFF7F" stroke="#020203" stroke-width="1.0">Result</text></svg>
</body></html>
